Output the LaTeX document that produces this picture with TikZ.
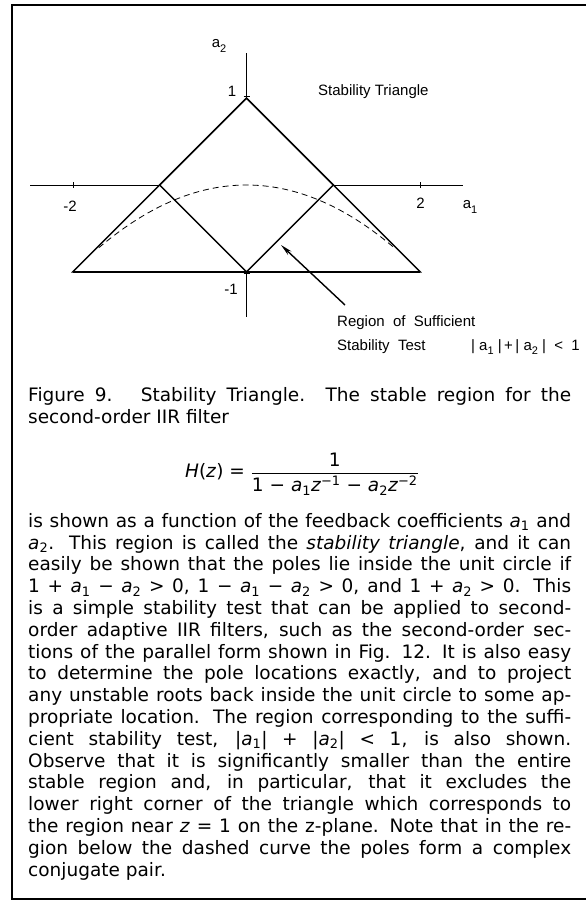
\documentclass[tikz,border=0pt]{standalone}
\usepackage{fontspec}
\usepackage{amsmath}
\setmainfont{DejaVu Sans}
\newfontfamily\figfont{Liberation Sans}
\usetikzlibrary{arrows.meta}
\newcommand{\va}{\textit{a}}
\newcommand{\jl}[1]{\makebox[543pt][s]{#1}}
\newcommand{\lsub}[1]{\raisebox{-4.5pt}{\fontsize{11}{11}\selectfont #1}}
\begin{document}
\begin{tikzpicture}[x=1pt,y=-1pt,
  lbl/.style={font=\figfont\fontsize{15}{18}\selectfont, inner sep=0pt},
  body/.style={font=\fontsize{18.5}{21.8}\selectfont, inner sep=0pt, anchor=base west},
  side/.style={line width=1.4pt, line join=miter},
  axisline/.style={line width=0.9pt},
  tick/.style={line width=0.9pt}]
\useasboundingbox (0,0) rectangle (586,906);
\fill[white] (0,0) rectangle (586,906);
% frame
\draw[line width=2pt] (586,5) -- (12,5) -- (12,899) -- (586,899);
% key points (origin 246.5,185 ; unit 86.9)
\coordinate (A)  at (246.5,98.1);
\coordinate (BL) at (72.7,271.9);
\coordinate (BR) at (420.3,271.9);
\coordinate (DL) at (159.6,185);
\coordinate (DR) at (333.4,185);
\coordinate (DB) at (246.5,271.9);
\coordinate (XL) at (30,185);
\coordinate (XR) at (463,185);
\coordinate (YT) at (246.5,53);
\coordinate (YB) at (246.5,317);
% axes (outside the triangle only)
\draw[axisline] (XL) -- (DL);
\draw[axisline] (DR) -- (XR);
\draw[axisline] (YT) -- (A);
\draw[axisline] (DB) -- (YB);
\draw[tick] (73.3,182) -- (73.3,188);
\draw[tick] (420.5,182) -- (420.5,188);
\draw[tick] (243.5,96.5) -- (249.5,96.5);
\draw[tick] (243.5,273.5) -- (249.5,273.5);
% stability triangle
\draw[side] (A) -- (BL) -- (BR) -- cycle;
\draw[line width=2pt] (BL) -- (BR);
% sufficient region (diamond)
\draw[side] (A) -- (DL) -- (DB) -- (DR) -- cycle;
% dashed parabola a2 = -a1^2/4
\draw[line width=0.8pt, dash pattern=on 6pt off 4pt]
  plot[domain=-1.7:1.7, samples=80] ({246.5+86.9*\x},{185+86.9*\x*\x/4});
% labels
\node[lbl] (la2) at (219,46) {a\lsub{2}};
\node[lbl] (l1)  at (232,91) {1};
\node[lbl, anchor=west] (st) at (318,92) {Stability Triangle};
\node[lbl] (lm2) at (70,206.5) {-2};
\node[lbl] (l2)  at (420.5,203.5) {2};
\node[lbl] (la1) at (470,207) {a\lsub{1}};
\node[lbl] (lm1) at (231,289) {-1};
\node[lbl, anchor=west] (r1) at (337,323) {Region\ \ of\ \ Sufficient};
\node[lbl, anchor=west] (r2) at (337,347) {Stability\ \ Test};
\node[lbl, anchor=east] (r3) at (580,347) {|\ a\lsub{1}\ |\,+\,|\ a\lsub{2}\ |\ \ <\ \ 1};
% arrow
\coordinate (arrT) at (345,305);
\coordinate (arrH) at (281,245);
\draw[line width=1.4pt, -{Stealth[length=12pt,width=5pt]}] (arrT) -- (arrH);
% caption
\node[body] (c1) at (28,401) {\jl{Figure 9.\hspace{8pt} Stability Triangle. The stable region for the}};
\node[body] (c2) at (28,423) {second-order IIR filter};
% formula
\node[font=\fontsize{18.5}{21.8}\selectfont, inner sep=0pt] (eq) at (302,474)
  {\textit{H}(\textit{z}) = $\displaystyle\frac{\mbox{1}}{\mbox{1 − \va\textsubscript{1}\textit{z}\textsuperscript{−1} − \va\textsubscript{2}\textit{z}\textsuperscript{−2}}}$};
% paragraph
\node[body] (p1)  at (28,527.2) {\jl{is shown as a function of the feedback coefficients \va\textsubscript{1} and}};
\node[body] (p2)  at (28,549.0) {\jl{\va\textsubscript{2}. This region is called the \textit{stability triangle}, and it can}};
\node[body] (p3)  at (28,570.8) {\jl{easily be shown that the poles lie inside the unit circle if}};
\node[body] (p4)  at (28,592.6) {\jl{1 + \va\textsubscript{1} − \va\textsubscript{2} > 0, 1 − \va\textsubscript{1} − \va\textsubscript{2} > 0, and 1 + \va\textsubscript{2} > 0. This}};
\node[body] (p5)  at (28,614.4) {\jl{is a simple stability test that can be applied to second-}};
\node[body] (p6)  at (28,636.2) {\jl{order adaptive IIR filters, such as the second-order sec-}};
\node[body] (p7)  at (28,658.0) {\jl{tions of the parallel form shown in Fig. 12. It is also easy}};
\node[body] (p8)  at (28,679.8) {\jl{to determine the pole locations exactly, and to project}};
\node[body] (p9)  at (28,701.6) {\jl{any unstable roots back inside the unit circle to some ap-}};
\node[body] (p10) at (28,723.4) {\jl{propriate location. The region corresponding to the suffi-}};
\node[body] (p11) at (28,745.2) {\jl{cient stability test, |\va\textsubscript{1}| + |\va\textsubscript{2}| < 1, is also shown.}};
\node[body] (p12) at (28,767.0) {\jl{Observe that it is significantly smaller than the entire}};
\node[body] (p13) at (28,788.8) {\jl{stable region and, in particular, that it excludes the}};
\node[body] (p14) at (28,810.6) {\jl{lower right corner of the triangle which corresponds to}};
\node[body] (p15) at (28,832.4) {\jl{the region near \textit{z} = 1 on the z-plane. Note that in the re-}};
\node[body] (p16) at (28,854.2) {\jl{gion below the dashed curve the poles form a complex}};
\node[body] (p17) at (28,876.0) {conjugate pair.};
\end{tikzpicture}
\end{document}
